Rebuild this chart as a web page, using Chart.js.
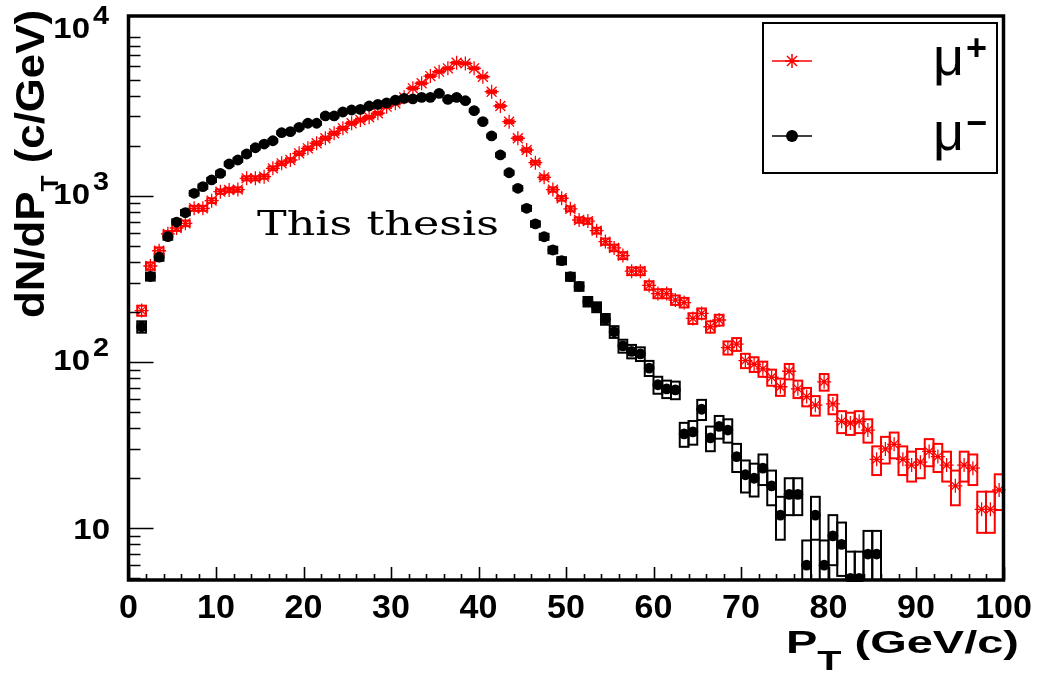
<!DOCTYPE html>
<html>
<head>
<meta charset="utf-8">
<script src="https://cdn.jsdelivr.net/npm/chart.js@4.4.1/dist/chart.umd.min.js"></script>
<style>
  html, body { margin: 0; padding: 0; background: #fff; }
</style>
</head>
<body>
<canvas id="ptChart" width="1040" height="679"></canvas>
<script>
// bin centres (GeV/c), 1 GeV wide bins
const binCenters = [
  1.5, 2.5, 3.5, 4.5, 5.5, 6.5, 7.5, 8.5, 9.5, 10.5,
  11.5, 12.5, 13.5, 14.5, 15.5, 16.5, 17.5, 18.5, 19.5, 20.5,
  21.5, 22.5, 23.5, 24.5, 25.5, 26.5, 27.5, 28.5, 29.5, 30.5,
  31.5, 32.5, 33.5, 34.5, 35.5, 36.5, 37.5, 38.5, 39.5, 40.5,
  41.5, 42.5, 43.5, 44.5, 45.5, 46.5, 47.5, 48.5, 49.5, 50.5,
  51.5, 52.5, 53.5, 54.5, 55.5, 56.5, 57.5, 58.5, 59.5, 60.5,
  61.5, 62.5, 63.5, 64.5, 65.5, 66.5, 67.5, 68.5, 69.5, 70.5,
  71.5, 72.5, 73.5, 74.5, 75.5, 76.5, 77.5, 78.5, 79.5, 80.5,
  81.5, 82.5, 83.5, 84.5, 85.5, 86.5, 87.5, 88.5, 89.5, 90.5,
  91.5, 92.5, 93.5, 94.5, 95.5, 96.5, 97.5, 98.5, 99.5
];

// mu+ yield per bin
const muPlus = [
  204, 378, 467, 590, 640, 683, 841, 841, 935, 1059,
  1083, 1090, 1274, 1274, 1303, 1463, 1568, 1641, 1800, 1930,
  2070, 2218, 2376, 2546, 2730, 2857, 2966, 3135, 3434, 3600,
  3910, 4430, 4750, 5250, 5575, 5845, 6310, 6250, 5845, 5200,
  4225, 3467, 2790, 2218, 1885, 1582, 1291, 1090, 966, 835,
  715, 704, 617, 530, 486, 437, 352, 352, 289, 258,
  258, 236, 228, 183, 196, 163, 179, 122, 128, 102,
  97, 91, 81, 71, 88, 69, 62, 55, 76, 56,
  44, 43, 44, 39, 26, 30, 32, 26, 24, 25,
  29, 27, 24, 18, 24, 23, 13, 13, 17
];

// mu- yield per bin (empty bins above 86 GeV/c)
const muMinus = [
  163, 327, 427, 568, 695, 792, 1035, 1135, 1245, 1365,
  1553, 1641, 1783, 1945, 2047, 2143, 2395, 2432, 2582, 2730,
  2730, 3020, 3020, 3190, 3280, 3310, 3467, 3548, 3620, 3760,
  3850, 3830, 3910, 3910, 4130, 3800, 3910, 3730, 3250, 2790,
  2290, 1760, 1376, 1109, 841, 677, 567, 472, 407, 326,
  285, 231, 214, 181, 152, 125, 116, 112, 92, 73,
  69, 68, 37, 38, 52, 35, 41, 39, 27, 21,
  20, 23, 18, 12, 16, 16, 6, 12, 6, 9,
  8, 5, 5, 7, 7
];

const xTickValues = [0, 10, 20, 30, 40, 50, 60, 70, 80, 90, 100];
const xTickLabels = ["0", "10", "20", "30", "40", "50", "60", "70", "80", "90", "100"];
const yTickValues = [10, 100, 1000, 10000];
const yTickExps = ["", "2", "3", "4"];
const legendNames = ["\u03bc", "\u03bc"];
const legendSups = ["+", "\u2212"];

const RED = "#ff0000";
const BLACK = "#000000";
const SANS = "'Liberation Sans', Arial, sans-serif";
const sans = (size, bold) => `${bold ? "bold " : ""}${size}px ${SANS}`;

function toPoints(vals) {
  return vals.map((v, i) => ({ x: binCenters[i], y: v }));
}

// Poisson error boxes, one bin wide
const errorBoxes = {
  id: "errorBoxes",
  beforeDatasetsDraw(chart) {
    const { ctx, chartArea, scales } = chart;
    ctx.save();
    ctx.beginPath();
    ctx.rect(chartArea.left, chartArea.top, chartArea.width, chartArea.height);
    ctx.clip();
    ctx.lineWidth = 2;
    chart.data.datasets.forEach((ds) => {
      ctx.strokeStyle = ds.borderColor;
      ds.data.forEach((p) => {
        const err = Math.sqrt(p.y);
        const x1 = scales.x.getPixelForValue(p.x - 0.5);
        const x2 = scales.x.getPixelForValue(p.x + 0.5);
        const y1 = scales.y.getPixelForValue(p.y + err);
        const y2 = scales.y.getPixelForValue(Math.max(p.y - err, 0.5));
        ctx.strokeRect(x1, y1, x2 - x1, y2 - y1);
      });
    });
    ctx.restore();
  },
};

function fitText(ctx, parts, totalLen) {
  let w = 0;
  parts.forEach((p) => {
    ctx.font = p.font;
    w += ctx.measureText(p.t).width;
  });
  return totalLen / w;
}

function drawParts(ctx, parts, sx) {
  let x = 0;
  parts.forEach((p) => {
    ctx.font = p.font;
    ctx.save();
    ctx.scale(sx, 1);
    ctx.fillText(p.t, x / sx, p.dy);
    ctx.restore();
    x += ctx.measureText(p.t).width * sx;
  });
}

const rootFrame = {
  id: "rootFrame",
  afterDraw(chart) {
    const { ctx, chartArea: a, scales } = chart;
    const xs = scales.x, ys = scales.y;
    ctx.save();
    ctx.fillStyle = BLACK;
    ctx.strokeStyle = BLACK;

    // ticks on x axis (inside)
    ctx.lineWidth = 1.6;
    ctx.beginPath();
    for (let v = 0; v <= 100; v += 2) {
      const px = Math.round(xs.getPixelForValue(v)) + 0.5;
      const len = v % 10 === 0 ? 13 : 6;
      ctx.moveTo(px, a.bottom);
      ctx.lineTo(px, a.bottom - len);
    }
    // ticks on y axis (inside)
    [1, 10, 100, 1000].forEach((d) => {
      for (let k = 1; k <= 9; k++) {
        const v = k * d;
        if (v < ys.min || v > ys.max) continue;
        const py = Math.round(ys.getPixelForValue(v)) + 0.5;
        ctx.moveTo(a.left, py);
        ctx.lineTo(a.left + (k === 1 ? 25 : 12), py);
      }
    });
    ctx.stroke();

    // frame
    ctx.lineWidth = 3.5;
    ctx.strokeRect(a.left, a.top, a.width, a.height);

    // x tick labels
    ctx.font = sans(34, true);
    ctx.textAlign = "center";
    ctx.textBaseline = "alphabetic";
    xTickValues.forEach((v, i) => {
      ctx.fillText(xTickLabels[i], xs.getPixelForValue(v), 618);
    });

    // y tick labels (10^n)
    yTickValues.forEach((v, i) => {
      const py = ys.getPixelForValue(v);
      ctx.textAlign = "right";
      if (yTickExps[i]) {
        ctx.font = sans(25, true);
        ctx.save();
        ctx.translate(109, py - 6);
        ctx.scale(1.15, 1);
        ctx.fillText(yTickExps[i], 0, 0);
        ctx.restore();
        ctx.font = sans(30, true);
        ctx.save();
        ctx.translate(90, py + 8);
        ctx.scale(1.1, 1);
        ctx.fillText("10", 0, 0);
        ctx.restore();
      } else {
        ctx.font = sans(30, true);
        ctx.save();
        ctx.translate(110, py + 11);
        ctx.scale(1.1, 1);
        ctx.fillText("10", 0, 0);
        ctx.restore();
      }
    });

    // x title: P_T (GeV/c)
    ctx.textAlign = "left";
    const xParts = [
      { t: "P", font: sans(32, true), dy: 0 },
      { t: "T", font: sans(27, true), dy: 17 },
      { t: " (GeV/c)", font: sans(32, true), dy: 0 },
    ];
    ctx.save();
    ctx.translate(786, 653);
    drawParts(ctx, xParts, fitText(ctx, xParts, 233));
    ctx.restore();

    // y title: dN/dP_T (c/GeV)
    const yParts = [
      { t: "dN/dP", font: sans(40, true), dy: 0 },
      { t: "T", font: sans(24, true), dy: 14 },
      { t: " (c/GeV)", font: sans(40, true), dy: 0 },
    ];
    ctx.save();
    ctx.translate(44, 318);
    ctx.rotate(-Math.PI / 2);
    drawParts(ctx, yParts, fitText(ctx, yParts, 308));
    ctx.restore();

    // annotation
    const tParts = [{ t: "This thesis", font: "33px 'DejaVu Serif', serif", dy: 0 }];
    ctx.save();
    ctx.translate(257, 235);
    drawParts(ctx, tParts, fitText(ctx, tParts, 242));
    ctx.restore();

    // legend
    ctx.lineWidth = 2;
    ctx.strokeRect(763, 23, 234, 150);
    const rows = [61, 136];
    const styles = [RED, BLACK];
    rows.forEach((ry, i) => {
      ctx.strokeStyle = styles[i];
      ctx.fillStyle = styles[i];
      ctx.lineWidth = 1.5;
      ctx.beginPath();
      ctx.moveTo(772, ry);
      ctx.lineTo(812, ry);
      ctx.stroke();
      if (i === 0) {
        ctx.beginPath();
        const r = 7;
        ctx.moveTo(792 - r, ry); ctx.lineTo(792 + r, ry);
        ctx.moveTo(792, ry - r); ctx.lineTo(792, ry + r);
        const q = r * 0.707;
        ctx.moveTo(792 - q, ry - q); ctx.lineTo(792 + q, ry + q);
        ctx.moveTo(792 - q, ry + q); ctx.lineTo(792 + q, ry - q);
        ctx.stroke();
      } else {
        ctx.beginPath();
        ctx.arc(792, ry, 6, 0, Math.PI * 2);
        ctx.fill();
      }
      ctx.fillStyle = BLACK;
      ctx.textAlign = "left";
      ctx.font = sans(54, false);
      ctx.fillText(legendNames[i], 933, ry + 14);
      ctx.font = sans(36, true);
      ctx.fillText(legendSups[i], 966, ry - 1);
    });

    ctx.restore();
  },
};

new Chart(document.getElementById("ptChart"), {
  type: "scatter",
  data: {
    datasets: [
      {
        label: "\u03bc-",
        data: toPoints(muMinus),
        pointStyle: "circle",
        pointRadius: 5.4,
        pointHoverRadius: 5.4,
        backgroundColor: BLACK,
        borderColor: BLACK,
        borderWidth: 0,
        clip: 2,
      },
      {
        label: "\u03bc+",
        data: toPoints(muPlus),
        pointStyle: "star",
        pointRadius: 7,
        pointHoverRadius: 7,
        backgroundColor: RED,
        borderColor: RED,
        borderWidth: 1.3,
        clip: 2,
      },
    ],
  },
  options: {
    responsive: false,
    animation: false,
    events: [],
    layout: { padding: { left: 128.5, right: 36.5, top: 16, bottom: 99 } },
    plugins: {
      legend: { display: false },
      tooltip: { enabled: false },
    },
    scales: {
      x: { type: "linear", min: 0, max: 100, display: false },
      y: { type: "logarithmic", min: 4.887, max: 12058, display: false },
    },
  },
  plugins: [errorBoxes, rootFrame],
});
</script>
</body>
</html>
